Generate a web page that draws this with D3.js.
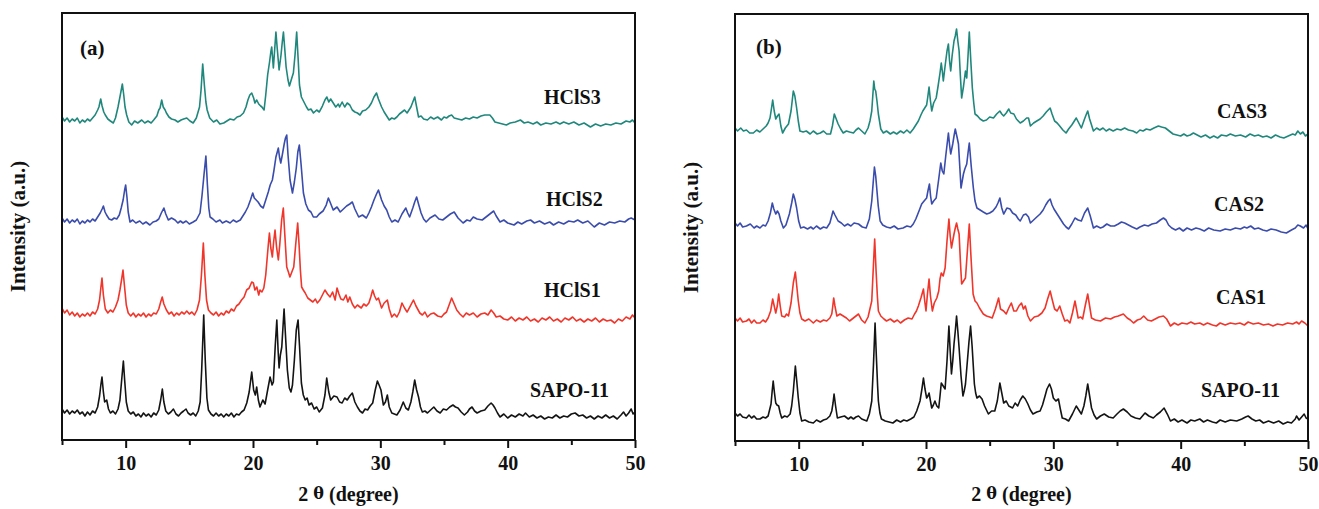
<!DOCTYPE html>
<html>
<head>
<meta charset="utf-8">
<script src="https://cdn.jsdelivr.net/npm/d3@7"></script>
<style>
body { margin: 0; background: #fff; }
text { font-family: "Liberation Serif", "Times New Roman", serif; font-weight: bold; fill: #111; }
</style>
</head>
<body>
<div class="canvas"></div>
<script>
// tick values of the 2 theta axis
var majorTicks = [10, 20, 30, 40, 50];
var minorTicks = [5, 15, 25, 35, 45];

// panel (a) traces: [2 theta, stacked intensity]
var aSapo = [[5.0,31],[5.2,27],[5.4,30],[5.6,26],[5.8,29],[6.0,27],[6.2,30],[6.4,26],[6.6,28],[6.8,24],[7.0,28],[7.2,25],[7.4,29],[7.6,27],[7.8,33],[7.95,44],[8.05,55],[8.14,63],[8.25,48],[8.35,38],[8.51,40],[8.65,31],[8.8,27],[9.0,29],[9.2,26],[9.4,31],[9.55,40],[9.7,62],[9.82,79],[9.92,60],[10.05,38],[10.2,29],[10.4,26],[10.6,28],[10.8,24],[11.0,26],[11.2,23],[11.4,27],[11.6,24],[11.8,26],[12.0,23],[12.2,27],[12.4,25],[12.6,30],[12.75,40],[12.88,51],[13.0,38],[13.15,29],[13.35,26],[13.55,28],[13.75,31],[13.95,26],[14.15,24],[14.35,27],[14.55,29],[14.74,31],[14.9,27],[15.1,25],[15.3,27],[15.5,24],[15.7,29],[15.85,38],[15.97,70],[16.13,125],[16.25,80],[16.38,42],[16.5,30],[16.7,26],[16.9,24],[17.1,27],[17.3,24],[17.5,26],[17.7,23],[17.9,26],[18.1,24],[18.3,27],[18.5,23],[18.7,26],[18.9,25],[19.1,28],[19.3,30],[19.51,37],[19.7,48],[19.9,68],[20.05,50],[20.18,45],[20.29,53],[20.42,40],[20.55,33],[20.77,40],[20.95,36],[21.15,50],[21.34,63],[21.5,55],[21.6,58],[21.75,95],[21.87,120],[21.97,90],[22.05,72],[22.15,85],[22.26,93],[22.44,131],[22.55,105],[22.7,70],[22.85,52],[22.98,48],[23.1,55],[23.25,80],[23.4,110],[23.54,120],[23.65,95],[23.8,57],[23.95,45],[24.1,40],[24.25,42],[24.4,35],[24.6,37],[24.8,31],[25.0,33],[25.2,28],[25.45,32],[25.65,45],[25.79,62],[25.95,48],[26.1,40],[26.35,44],[26.6,43],[26.8,38],[27.0,37],[27.2,42],[27.4,40],[27.6,44],[27.8,47],[28.0,38],[28.2,33],[28.4,29],[28.6,27],[28.8,31],[29.0,30],[29.2,34],[29.4,37],[29.6,50],[29.77,59],[29.9,55],[30.05,50],[30.24,35],[30.4,38],[30.55,45],[30.7,33],[30.9,27],[31.1,26],[31.3,25],[31.55,30],[31.8,38],[32.0,32],[32.2,30],[32.4,38],[32.55,48],[32.7,60],[32.85,50],[33.0,43],[33.15,33],[33.3,28],[33.5,29],[33.7,27],[33.95,30],[34.2,33],[34.45,29],[34.7,27],[34.95,31],[35.2,30],[35.45,33],[35.7,35],[35.9,33],[36.1,32],[36.35,28],[36.6,25],[36.85,28],[37.0,31],[37.2,33],[37.4,29],[37.6,27],[37.9,29],[38.2,30],[38.45,34],[38.7,37],[38.85,35],[39.0,32],[39.2,27],[39.4,23],[39.7,26],[40.0,22],[40.3,25],[40.6,23],[40.9,26],[41.2,24],[41.4,27],[41.7,23],[42.0,25],[42.3,22],[42.6,24],[42.9,21],[43.2,23],[43.5,22],[43.8,25],[44.1,22],[44.4,24],[44.7,23],[45.0,26],[45.3,27],[45.6,24],[45.9,25],[46.2,22],[46.5,24],[46.8,21],[47.1,24],[47.4,22],[47.7,25],[48.0,22],[48.3,24],[48.6,21],[48.9,25],[49.1,28],[49.3,24],[49.5,27],[49.7,31],[49.85,26],[50.0,28]];
var aHcls1 = [[5.0,132],[5.2,127],[5.4,130],[5.6,125],[5.8,128],[6.0,124],[6.2,127],[6.4,123],[6.6,126],[6.8,124],[7.0,127],[7.2,124],[7.4,128],[7.6,126],[7.8,131],[7.95,140],[8.05,152],[8.14,162],[8.25,145],[8.4,131],[8.6,127],[8.8,130],[9.0,128],[9.2,133],[9.4,140],[9.55,150],[9.7,162],[9.79,170],[9.9,155],[10.05,135],[10.2,127],[10.4,124],[10.6,127],[10.8,123],[11.0,126],[11.2,124],[11.4,127],[11.6,123],[11.8,126],[12.0,124],[12.2,127],[12.4,126],[12.6,131],[12.75,138],[12.87,143],[13.0,136],[13.2,130],[13.4,126],[13.6,128],[13.8,124],[14.0,127],[14.2,125],[14.4,128],[14.6,126],[14.8,129],[15.0,126],[15.2,128],[15.4,125],[15.6,130],[15.8,140],[15.95,165],[16.1,197],[16.22,165],[16.35,140],[16.5,130],[16.7,127],[16.9,125],[17.1,128],[17.3,124],[17.5,127],[17.7,125],[17.9,129],[18.1,127],[18.3,131],[18.5,129],[18.7,134],[18.9,136],[19.1,140],[19.3,143],[19.5,150],[19.7,152],[19.9,158],[20.03,157],[20.15,150],[20.3,153],[20.45,145],[20.55,150],[20.7,148],[20.85,152],[21.0,165],[21.1,180],[21.2,195],[21.29,207],[21.4,192],[21.52,183],[21.62,198],[21.73,210],[21.85,193],[21.99,180],[22.1,195],[22.25,220],[22.38,232],[22.5,205],[22.65,173],[22.78,168],[22.9,163],[23.05,168],[23.2,173],[23.35,195],[23.51,217],[23.62,195],[23.72,170],[23.82,153],[23.95,150],[24.1,147],[24.3,142],[24.5,140],[24.7,138],[24.9,141],[25.05,137],[25.25,140],[25.45,145],[25.65,150],[25.85,146],[26.05,143],[26.25,148],[26.45,140],[26.6,152],[26.75,146],[26.9,141],[27.1,140],[27.3,145],[27.45,138],[27.6,143],[27.8,136],[28.0,132],[28.2,135],[28.5,132],[28.7,136],[28.9,134],[29.1,137],[29.25,143],[29.4,150],[29.55,144],[29.7,140],[29.85,142],[30.1,132],[30.3,137],[30.55,140],[30.7,131],[30.9,123],[31.1,126],[31.3,123],[31.5,128],[31.7,137],[31.9,132],[32.1,128],[32.35,134],[32.6,140],[32.8,134],[33.1,127],[33.3,125],[33.5,128],[33.7,123],[33.95,126],[34.2,127],[34.5,124],[34.8,123],[35.0,126],[35.2,128],[35.4,135],[35.6,142],[35.8,136],[36.0,130],[36.25,126],[36.5,123],[36.75,127],[37.0,125],[37.3,127],[37.6,123],[37.9,126],[38.2,127],[38.45,125],[38.7,130],[38.9,127],[39.1,123],[39.4,124],[39.7,121],[40.0,120],[40.3,123],[40.6,119],[40.9,122],[41.2,120],[41.5,123],[41.8,119],[42.1,121],[42.4,118],[42.7,122],[43.0,120],[43.3,123],[43.6,119],[43.9,121],[44.2,118],[44.5,122],[44.8,120],[45.1,123],[45.4,119],[45.7,121],[46.0,118],[46.3,121],[46.6,119],[46.9,122],[47.2,118],[47.5,121],[47.8,119],[48.1,120],[48.4,117],[48.7,121],[49.0,119],[49.3,123],[49.6,121],[49.8,125],[50.0,122]];
var aHcls2 = [[5.0,222],[5.2,218],[5.4,221],[5.6,217],[5.8,220],[6.0,218],[6.2,221],[6.4,216],[6.6,219],[6.8,217],[7.0,220],[7.2,218],[7.4,221],[7.6,219],[7.8,223],[8.0,227],[8.15,231],[8.25,234],[8.38,228],[8.5,225],[8.7,221],[8.9,220],[9.1,222],[9.3,221],[9.5,225],[9.65,232],[9.8,240],[9.92,250],[10.0,255],[10.1,243],[10.2,228],[10.34,218],[10.55,220],[10.8,217],[11.1,219],[11.35,216],[11.6,218],[11.9,215],[12.15,218],[12.4,219],[12.6,221],[12.8,227],[13.0,232],[13.15,226],[13.35,220],[13.6,222],[13.88,220],[14.1,217],[14.3,219],[14.5,217],[14.75,219],[15.0,216],[15.3,218],[15.55,220],[15.84,227],[16.0,245],[16.15,265],[16.3,284],[16.42,255],[16.53,232],[16.63,223],[16.85,221],[17.1,218],[17.4,220],[17.6,217],[17.9,219],[18.2,217],[18.45,220],[18.7,218],[19.0,220],[19.2,224],[19.4,228],[19.6,233],[19.8,240],[19.98,247],[20.1,242],[20.25,240],[20.4,238],[20.6,234],[20.8,232],[21.0,240],[21.2,248],[21.35,255],[21.52,260],[21.65,270],[21.8,283],[21.99,292],[22.08,283],[22.18,277],[22.3,285],[22.45,296],[22.55,302],[22.65,305],[22.75,285],[22.91,260],[23.1,247],[23.25,258],[23.4,272],[23.52,288],[23.64,295],[23.78,275],[23.96,247],[24.15,236],[24.35,230],[24.55,228],[24.74,223],[25.0,223],[25.2,226],[25.5,229],[25.75,235],[25.92,242],[26.05,238],[26.3,230],[26.6,233],[26.85,228],[27.1,231],[27.35,234],[27.6,236],[27.8,238],[28.0,231],[28.3,223],[28.6,225],[28.9,222],[29.1,227],[29.3,233],[29.5,240],[29.7,246],[29.85,250],[30.0,244],[30.1,240],[30.3,234],[30.5,230],[30.7,223],[30.9,218],[31.15,220],[31.4,218],[31.7,226],[32.0,232],[32.15,227],[32.3,223],[32.55,232],[32.7,238],[32.85,243],[33.0,236],[33.2,227],[33.4,221],[33.6,218],[33.9,222],[34.3,225],[34.6,221],[34.9,220],[35.2,223],[35.5,226],[35.8,228],[36.1,222],[36.5,217],[36.8,220],[37.05,219],[37.3,223],[37.6,221],[38.0,220],[38.3,223],[38.6,226],[38.9,229],[39.1,224],[39.4,218],[39.7,220],[40.0,217],[40.5,215],[40.8,218],[41.1,216],[41.5,219],[41.8,220],[42.1,217],[42.5,219],[42.9,216],[43.3,218],[43.6,215],[44.0,218],[44.4,216],[44.8,219],[45.2,218],[45.5,220],[45.9,217],[46.3,219],[46.8,213],[47.2,217],[47.6,215],[48.0,218],[48.4,217],[48.8,219],[49.2,218],[49.5,221],[49.7,222],[50.0,220]];
var aHcls3 = [[5.0,323],[5.2,319],[5.4,322],[5.6,318],[5.8,321],[6.0,319],[6.2,322],[6.4,317],[6.6,320],[6.8,318],[7.0,321],[7.2,319],[7.4,322],[7.6,325],[7.8,330],[7.9,333],[8.04,341],[8.15,334],[8.28,328],[8.4,325],[8.6,321],[8.8,319],[9.03,317],[9.2,322],[9.4,333],[9.55,343],[9.74,356],[9.85,345],[9.95,333],[10.08,325],[10.25,318],[10.47,315],[10.7,319],[10.95,317],[11.26,320],[11.5,317],[11.75,319],[12.0,317],[12.2,320],[12.45,324],[12.6,330],[12.7,332],[12.83,340],[12.95,333],[13.1,330],[13.2,327],[13.4,323],[13.6,321],[13.88,320],[14.1,318],[14.35,320],[14.55,321],[14.8,322],[15.05,319],[15.3,317],[15.55,322],[15.8,333],[15.92,350],[16.05,376],[16.18,355],[16.3,338],[16.4,330],[16.6,322],[16.9,318],[17.15,320],[17.4,316],[17.7,317],[17.95,319],[18.2,321],[18.5,320],[18.75,323],[19.0,324],[19.25,327],[19.45,333],[19.6,340],[19.75,345],[19.9,347],[20.05,342],[20.15,337],[20.29,340],[20.45,336],[20.6,334],[20.7,333],[20.87,330],[21.0,345],[21.15,365],[21.3,378],[21.4,388],[21.47,393],[21.55,380],[21.6,372],[21.7,390],[21.8,408],[21.9,392],[22.05,370],[22.2,385],[22.3,398],[22.39,408],[22.5,390],[22.6,373],[22.75,360],[22.86,354],[23.0,360],[23.17,367],[23.3,385],[23.43,408],[23.55,380],[23.65,355],[23.8,343],[24.0,338],[24.2,333],[24.35,330],[24.55,331],[24.75,327],[25.0,330],[25.2,328],[25.45,334],[25.65,340],[25.8,343],[25.95,338],[26.1,341],[26.3,337],[26.5,333],[26.7,336],[26.8,333],[27.0,338],[27.2,333],[27.4,337],[27.6,335],[27.8,330],[28.0,328],[28.2,327],[28.4,325],[28.6,329],[28.85,330],[29.1,333],[29.3,337],[29.5,343],[29.7,347],[29.85,341],[30.1,333],[30.3,328],[30.5,324],[30.7,320],[30.9,322],[31.1,321],[31.3,323],[31.5,326],[31.7,328],[31.9,330],[32.1,327],[32.4,333],[32.55,338],[32.7,343],[32.85,333],[33.0,323],[33.2,324],[33.4,321],[33.7,320],[33.95,323],[34.2,321],[34.5,323],[34.8,320],[35.0,323],[35.2,322],[35.4,324],[35.6,325],[35.8,322],[36.1,321],[36.4,320],[36.7,322],[37.0,321],[37.3,323],[37.6,322],[37.9,324],[38.2,325],[38.6,325],[38.8,322],[39.0,318],[39.3,317],[39.6,316],[39.9,315],[40.2,317],[40.6,318],[41.0,320],[41.3,317],[41.6,318],[42.0,316],[42.3,318],[42.6,315],[43.0,317],[43.4,316],[43.8,318],[44.1,316],[44.4,318],[44.8,316],[45.2,318],[45.6,315],[46.0,317],[46.5,313],[46.9,316],[47.3,314],[47.7,316],[48.1,315],[48.5,317],[48.9,316],[49.3,319],[49.6,318],[49.8,320],[50.0,317]];

// panel (b) traces
var bSapo = [[5.0,28],[5.2,25],[5.4,27],[5.6,24],[5.9,23],[6.1,26],[6.3,23],[6.5,25],[6.7,22],[6.96,22],[7.2,24],[7.4,23],[7.6,25],[7.83,37],[7.92,50],[8.0,60],[8.1,48],[8.2,38],[8.3,36],[8.43,35],[8.55,28],[8.67,23],[8.9,25],[9.1,24],[9.33,27],[9.45,35],[9.58,50],[9.74,75],[9.85,60],[9.97,43],[10.1,28],[10.24,20],[10.5,21],[10.8,19],[11.15,18],[11.4,21],[11.7,19],[11.95,21],[12.2,22],[12.45,25],[12.6,30],[12.7,38],[12.78,47],[12.9,35],[13.04,23],[13.3,24],[13.6,25],[13.9,22],[14.1,24],[14.3,22],[14.5,24],[14.7,25],[14.95,22],[15.15,21],[15.35,20],[15.55,27],[15.74,40],[15.87,75],[16.0,118],[16.1,85],[16.2,55],[16.26,40],[16.38,28],[16.5,22],[16.8,20],[17.1,19],[17.4,18],[17.7,21],[18.0,19],[18.25,21],[18.5,20],[18.8,22],[19.05,24],[19.27,30],[19.4,35],[19.53,40],[19.68,52],[19.8,63],[19.92,52],[20.05,43],[20.15,45],[20.24,48],[20.35,40],[20.45,33],[20.58,36],[20.7,40],[20.85,35],[21.0,33],[21.1,45],[21.2,58],[21.35,55],[21.5,52],[21.65,80],[21.8,115],[21.9,90],[22.0,67],[22.1,80],[22.2,97],[22.3,110],[22.4,125],[22.5,110],[22.6,93],[22.75,65],[22.9,45],[23.0,50],[23.1,57],[23.25,80],[23.38,100],[23.5,115],[23.62,95],[23.8,57],[23.9,48],[24.0,43],[24.2,45],[24.4,42],[24.6,35],[24.9,27],[25.15,30],[25.4,30],[25.6,40],[25.8,58],[25.95,48],[26.1,38],[26.3,40],[26.5,35],[26.8,33],[27.0,38],[27.2,35],[27.4,41],[27.6,45],[27.8,42],[28.0,37],[28.2,31],[28.4,27],[28.7,29],[28.96,30],[29.15,36],[29.35,45],[29.5,52],[29.7,57],[29.85,52],[30.0,43],[30.2,40],[30.4,42],[30.55,32],[30.7,23],[30.95,22],[31.2,20],[31.5,27],[31.8,35],[32.0,31],[32.2,27],[32.4,35],[32.55,45],[32.7,57],[32.85,45],[33.0,33],[33.2,26],[33.4,22],[33.7,25],[34.0,27],[34.35,24],[34.7,23],[35.0,27],[35.25,30],[35.5,32],[35.8,29],[36.1,25],[36.45,23],[36.8,22],[37.0,25],[37.2,28],[37.5,25],[37.85,23],[38.1,26],[38.4,29],[38.7,33],[38.95,27],[39.2,20],[39.5,22],[39.8,19],[40.1,21],[40.5,18],[40.8,21],[41.1,20],[41.5,22],[41.8,19],[42.1,21],[42.5,19],[42.8,18],[43.1,21],[43.5,19],[43.9,21],[44.4,20],[44.8,22],[45.1,24],[45.3,25],[45.6,22],[45.9,20],[46.2,21],[46.5,18],[46.9,20],[47.3,18],[47.7,20],[48.05,17],[48.4,19],[48.7,18],[49.0,22],[49.1,25],[49.3,21],[49.5,24],[49.7,27],[49.85,23],[50.0,22]];
var bCas1 = [[5.0,123],[5.2,120],[5.4,123],[5.6,119],[5.9,120],[6.1,122],[6.3,118],[6.5,121],[6.7,118],[6.96,118],[7.2,121],[7.4,119],[7.6,123],[7.8,130],[7.96,142],[8.08,135],[8.2,128],[8.32,135],[8.43,147],[8.55,135],[8.67,125],[8.9,124],[9.05,127],[9.2,125],[9.4,138],[9.58,158],[9.74,169],[9.85,155],[9.97,140],[10.1,128],[10.24,122],[10.5,120],[10.8,122],[11.15,118],[11.4,121],[11.7,119],[11.95,121],[12.2,120],[12.45,123],[12.6,127],[12.68,135],[12.75,143],[12.85,135],[13.0,125],[13.25,127],[13.5,125],[13.75,123],[14.0,120],[14.3,123],[14.5,125],[14.7,127],[14.95,121],[15.2,118],[15.45,124],[15.74,140],[15.85,170],[15.97,202],[16.08,170],[16.18,145],[16.26,130],[16.45,125],[16.7,122],[16.9,120],[17.2,122],[17.5,119],[17.75,121],[18.0,118],[18.3,121],[18.6,123],[18.9,122],[19.1,127],[19.25,130],[19.4,135],[19.6,143],[19.8,152],[19.9,140],[20.0,130],[20.1,145],[20.24,162],[20.35,145],[20.5,130],[20.65,138],[20.85,143],[21.0,150],[21.1,162],[21.2,168],[21.35,165],[21.5,173],[21.65,200],[21.8,222],[21.9,205],[22.0,193],[22.1,200],[22.2,207],[22.3,213],[22.4,218],[22.5,212],[22.6,207],[22.7,180],[22.8,157],[22.95,160],[23.1,163],[23.25,190],[23.4,217],[23.55,180],[23.7,147],[23.85,140],[24.0,138],[24.2,133],[24.35,130],[24.5,127],[24.75,125],[25.0,124],[25.2,123],[25.45,132],[25.7,143],[25.85,132],[26.1,130],[26.3,127],[26.5,133],[26.7,138],[26.9,130],[27.1,130],[27.3,135],[27.5,138],[27.65,132],[27.8,135],[28.0,125],[28.2,120],[28.5,124],[28.8,125],[29.1,128],[29.35,133],[29.55,142],[29.75,150],[29.9,142],[30.1,132],[30.3,130],[30.5,135],[30.7,127],[30.9,120],[31.1,121],[31.3,118],[31.5,128],[31.7,140],[31.85,130],[31.95,123],[32.15,124],[32.3,122],[32.5,135],[32.7,147],[32.85,135],[33.0,123],[33.3,121],[33.7,120],[34.1,123],[34.5,122],[34.8,124],[35.1,125],[35.5,127],[35.8,123],[36.05,121],[36.3,118],[36.6,121],[36.85,122],[37.1,125],[37.4,121],[37.7,120],[38.0,122],[38.3,124],[38.65,125],[38.9,122],[39.2,115],[39.5,118],[39.8,116],[40.1,118],[40.5,117],[40.8,119],[41.1,117],[41.5,118],[41.8,116],[42.1,118],[42.5,116],[42.8,115],[43.1,118],[43.5,116],[43.9,118],[44.3,117],[44.65,118],[45.0,116],[45.3,119],[45.7,117],[46.1,118],[46.5,116],[46.9,117],[47.25,115],[47.6,117],[48.0,116],[48.4,118],[48.8,117],[49.1,119],[49.3,117],[49.5,120],[49.75,118],[50.0,115]];
var bCas2 = [[5.0,218],[5.2,215],[5.4,218],[5.6,214],[5.9,215],[6.2,217],[6.5,213],[6.7,215],[6.96,213],[7.2,216],[7.4,215],[7.6,220],[7.78,228],[7.93,238],[8.05,232],[8.2,227],[8.33,230],[8.46,227],[8.6,220],[8.8,213],[9.0,216],[9.27,227],[9.45,238],[9.58,247],[9.7,242],[9.84,233],[10.0,220],[10.16,213],[10.4,214],[10.7,212],[10.95,214],[11.15,212],[11.4,215],[11.7,212],[11.95,214],[12.2,213],[12.45,218],[12.7,230],[12.85,226],[13.1,220],[13.35,218],[13.6,215],[13.85,217],[14.1,215],[14.35,218],[14.7,217],[15.0,214],[15.3,213],[15.55,222],[15.74,240],[15.85,258],[15.95,274],[16.05,265],[16.13,253],[16.25,235],[16.4,220],[16.6,216],[16.9,214],[17.2,213],[17.5,215],[17.8,212],[18.2,213],[18.5,215],[18.8,214],[19.0,217],[19.2,222],[19.45,230],[19.66,237],[19.85,240],[20.05,243],[20.15,250],[20.27,257],[20.36,245],[20.45,237],[20.6,240],[20.8,243],[21.0,262],[21.16,278],[21.28,270],[21.4,267],[21.55,285],[21.76,308],[21.86,295],[21.94,287],[22.1,297],[22.2,305],[22.3,312],[22.42,305],[22.55,297],[22.65,275],[22.75,253],[22.94,267],[23.05,272],[23.2,277],[23.3,288],[23.4,298],[23.55,275],[23.72,253],[23.85,240],[24.0,233],[24.25,231],[24.5,229],[24.77,227],[25.0,228],[25.25,230],[25.5,234],[25.65,238],[25.8,243],[25.95,233],[26.1,227],[26.35,233],[26.6,232],[26.8,228],[27.05,226],[27.25,222],[27.4,220],[27.65,226],[27.85,227],[28.05,224],[28.2,218],[28.45,221],[28.7,224],[28.96,227],[29.2,231],[29.4,236],[29.6,240],[29.75,242],[29.9,236],[30.05,232],[30.3,227],[30.55,222],[30.8,217],[31.0,214],[31.2,212],[31.45,217],[31.7,223],[31.95,221],[32.2,220],[32.45,228],[32.7,233],[32.9,225],[33.15,213],[33.4,215],[33.7,213],[33.9,214],[34.2,217],[34.5,215],[34.8,215],[35.1,217],[35.35,219],[35.6,218],[35.9,216],[36.2,214],[36.55,212],[36.8,214],[37.15,216],[37.45,215],[37.75,217],[38.1,218],[38.4,221],[38.65,223],[38.85,221],[39.05,216],[39.3,213],[39.6,211],[39.9,213],[40.2,210],[40.5,213],[40.85,211],[41.2,213],[41.5,212],[41.85,210],[42.2,213],[42.6,211],[43.1,210],[43.5,212],[43.9,211],[44.3,213],[44.7,212],[45.0,214],[45.2,213],[45.5,215],[45.8,212],[46.1,213],[46.45,211],[46.76,210],[47.1,212],[47.5,211],[47.9,209],[48.3,208],[48.7,211],[49.0,213],[49.2,216],[49.4,215],[49.65,213],[49.85,216],[50.0,212]];
var bCas3 = [[5.0,313],[5.2,310],[5.45,313],[5.66,310],[5.9,311],[6.15,308],[6.44,308],[6.7,311],[6.95,309],[7.2,312],[7.45,315],[7.6,318],[7.75,323],[7.87,333],[7.96,341],[8.08,330],[8.2,322],[8.33,325],[8.46,327],[8.6,315],[8.74,308],[8.95,313],[9.2,317],[9.4,330],[9.58,350],[9.7,345],[9.84,333],[9.97,320],[10.1,310],[10.35,309],[10.6,310],[10.9,307],[11.15,310],[11.45,307],[11.7,308],[11.95,310],[12.2,307],[12.5,307],[12.65,315],[12.8,327],[12.95,322],[13.1,317],[13.3,312],[13.5,308],[13.75,310],[14.0,309],[14.3,308],[14.5,311],[14.7,313],[14.95,310],[15.2,307],[15.45,313],[15.6,320],[15.74,330],[15.82,345],[15.9,360],[15.97,352],[16.05,350],[16.15,340],[16.26,327],[16.45,312],[16.65,308],[16.9,310],[17.2,307],[17.45,309],[17.7,307],[18.0,310],[18.25,308],[18.5,311],[18.75,308],[19.0,312],[19.2,316],[19.4,320],[19.6,326],[19.75,330],[19.9,333],[20.05,336],[20.15,345],[20.24,354],[20.35,340],[20.45,330],[20.6,338],[20.8,343],[20.95,355],[21.1,368],[21.2,378],[21.28,370],[21.36,360],[21.5,375],[21.65,390],[21.76,397],[21.85,380],[21.94,370],[22.05,385],[22.2,400],[22.3,405],[22.4,412],[22.5,400],[22.6,390],[22.7,365],[22.8,343],[22.95,355],[23.1,370],[23.2,363],[23.3,385],[23.4,409],[23.52,380],[23.64,353],[23.75,338],[23.85,327],[24.05,325],[24.25,322],[24.5,320],[24.75,321],[25.0,324],[25.3,323],[25.55,327],[25.8,330],[25.95,327],[26.1,325],[26.3,328],[26.5,332],[26.65,328],[26.9,327],[27.1,322],[27.4,318],[27.65,320],[27.9,323],[28.05,323],[28.2,315],[28.45,318],[28.7,320],[28.96,322],[29.2,325],[29.45,329],[29.6,331],[29.75,333],[29.9,327],[30.1,320],[30.3,318],[30.5,315],[30.75,311],[31.0,308],[31.2,312],[31.45,316],[31.65,320],[31.8,323],[32.0,318],[32.2,313],[32.45,322],[32.6,327],[32.7,330],[32.85,322],[33.15,310],[33.4,313],[33.65,311],[33.9,313],[34.15,310],[34.4,312],[34.7,310],[35.0,312],[35.3,311],[35.6,313],[35.9,311],[36.25,310],[36.55,308],[36.8,311],[37.05,310],[37.3,312],[37.6,311],[37.9,313],[38.25,315],[38.5,314],[38.8,313],[39.1,310],[39.4,307],[39.7,306],[40.0,305],[40.25,307],[40.5,305],[40.75,306],[41.0,308],[41.3,306],[41.6,304],[41.95,306],[42.3,303],[42.6,305],[42.9,303],[43.2,306],[43.6,305],[43.9,307],[44.3,305],[44.7,306],[45.1,304],[45.45,307],[45.8,305],[46.1,306],[46.45,304],[46.76,305],[47.1,303],[47.45,306],[47.8,304],[48.1,303],[48.45,305],[48.8,307],[49.0,306],[49.2,310],[49.4,307],[49.6,309],[49.8,305],[50.0,307]];

// sample names, bottom to top
var aNames = ["SAPO-11", "HClS1", "HClS2", "HClS3"];
var bNames = ["SAPO-11", "CAS1", "CAS2", "CAS3"];
var colors = ["#141414", "#f0352a", "#3a4cac", "#1f877c"];

var width = 1319,
    height = 509;

var svg = d3.select(".canvas").append("svg")
    .attr("width", width)
    .attr("height", height);

draw_panel({
    left: 62, right: 635, top: 13, bottom: 440,
    tag: "(a)", tagX: 80, tagY: 55,
    series: [aSapo, aHcls1, aHcls2, aHcls3], names: aNames,
    nameX: [530, 544, 546, 544], nameY: [397, 297, 206, 104],
    ylabX: 25
});
draw_panel({
    left: 735, right: 1308, top: 14, bottom: 441,
    tag: "(b)", tagX: 756, tagY: 54,
    series: [bSapo, bCas1, bCas2, bCas3], names: bNames,
    nameX: [1201, 1216, 1214, 1217], nameY: [397, 304, 211, 118],
    ylabX: 698
});

function draw_panel(p) {
    var g = svg.append("g");
    var x = d3.scaleLinear().domain([5, 50]).range([p.left, p.right]);
    var y = d3.scaleLinear().domain([0, 427]).range([p.bottom, p.top]);

    var line = d3.line()
        .x(function(d) { return x(d[0]); })
        .y(function(d) { return y(d[1]); });

    p.series.forEach(function(s, i) {
        g.append("path")
            .datum(s)
            .attr("d", line)
            .attr("fill", "none")
            .attr("stroke", colors[i])
            .attr("stroke-width", 1.6)
            .attr("stroke-linejoin", "round");
    });

    // minor then major ticks on the bottom axis
    var minor = g.append("g")
        .attr("transform", "translate(0," + p.bottom + ")")
        .call(d3.axisBottom(x).tickValues(minorTicks).tickSize(5).tickFormat(""));
    var major = g.append("g")
        .attr("transform", "translate(0," + p.bottom + ")")
        .call(d3.axisBottom(x).tickValues(majorTicks).tickSize(8).tickPadding(8).tickFormat(d3.format("d")));
    [minor, major].forEach(function(a) {
        a.select(".domain").remove();
        a.selectAll("line").attr("stroke", "#111").attr("stroke-width", 2);
    });
    major.selectAll("text")
        .attr("font-family", "Liberation Serif, serif")
        .attr("font-weight", "bold")
        .attr("font-size", 20)
        .attr("fill", "#111");

    // frame
    g.append("rect")
        .attr("x", p.left)
        .attr("y", p.top)
        .attr("width", p.right - p.left)
        .attr("height", p.bottom - p.top)
        .attr("fill", "none")
        .attr("stroke", "#111")
        .attr("stroke-width", 2);

    g.append("text")
        .attr("x", p.tagX)
        .attr("y", p.tagY)
        .attr("font-size", 21)
        .text(p.tag);

    p.names.forEach(function(n, i) {
        g.append("text")
            .attr("x", p.nameX[i])
            .attr("y", p.nameY[i])
            .attr("font-size", 20)
            .text(n);
    });

    var xt = g.append("text")
        .attr("x", (p.left + p.right) / 2)
        .attr("y", 501)
        .attr("text-anchor", "middle")
        .attr("font-size", 20);
    xt.append("tspan").text("2 ");
    xt.append("tspan").attr("font-family", "DejaVu Serif, serif").attr("font-size", 16).attr("dy", -2).text("\u03b8");
    xt.append("tspan").attr("dy", 2).text(" (degree)");

    g.append("text")
        .attr("transform", "translate(" + p.ylabX + "," + ((p.top + p.bottom) / 2) + ") rotate(-90)")
        .attr("text-anchor", "middle")
        .attr("font-size", 21)
        .text("Intensity (a.u.)");
}
</script>
</body>
</html>
